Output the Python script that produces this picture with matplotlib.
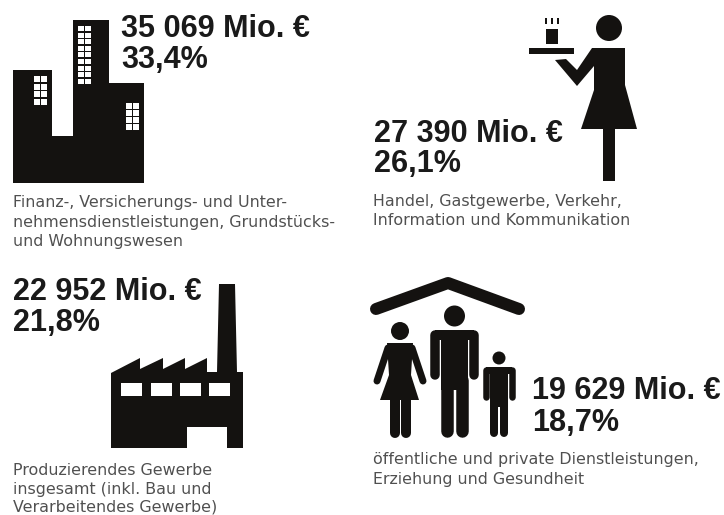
import matplotlib
matplotlib.use('Agg')
import matplotlib.pyplot as plt
from matplotlib.patches import Polygon, Rectangle, Circle

# values
mio = ['35 069', '27 390', '22 952', '19 629']
pct = ['33,4', '26,1', '21,8', '18,7']
desc = [
    ['Finanz-, Versicherungs- und Unter-', 'nehmensdienstleistungen, Grundstücks-', 'und Wohnungswesen'],
    ['Handel, Gastgewerbe, Verkehr,', 'Information und Kommunikation'],
    ['Produzierendes Gewerbe', 'insgesamt (inkl. Bau und', 'Verarbeitendes Gewerbe)'],
    ['öffentliche und private Dienstleistungen,', 'Erziehung und Gesundheit'],
]

# text placement in pixels: x, baseline of first line, baseline of second line
big_pos = [(121, 37, 68), (374, 142, 172), (13, 300, 331), (532, 399, 431)]
desc_pos = [(13, [207, 227, 246]), (373, [206, 225]), (13, [475, 494, 511]), (373, [464, 484])]

BLACK = '#141210'
plt.rcParams['font.family'] = ['Liberation Sans', 'DejaVu Sans']

fig = plt.figure(figsize=(7.24, 5.15), dpi=100)
ax = fig.add_axes([0, 0, 1, 1])
ax.set_xlim(0, 724)
ax.set_ylim(515, 0)
ax.axis('off')


def poly(pts, color=BLACK):
    ax.add_patch(Polygon(pts, closed=True, fc=color, ec='none'))


def rect(x0, y0, x1, y1, color=BLACK):
    ax.add_patch(Rectangle((x0, y0), x1 - x0, y1 - y0, fc=color, ec='none'))


def stroke(xs, ys, w, cap='round'):
    # w is in pixels
    ax.plot(xs, ys, color=BLACK, lw=w * 0.72, solid_capstyle=cap, solid_joinstyle='round')


def windows(x0, y0, cols, rows, w, h, gap):
    for c in range(cols):
        for r in range(rows):
            rect(x0 + c * (w + gap), y0 + r * (h + gap), x0 + c * (w + gap) + w, y0 + r * (h + gap) + h, 'white')


# buildings
poly([(13, 70), (52, 70), (52, 136), (73, 136), (73, 20), (109, 20), (109, 83), (144, 83), (144, 183), (13, 183)])
windows(78, 26, 2, 9, 5.5, 5, 1.6)
windows(34, 76, 2, 4, 5.5, 6, 1.6)
windows(126, 103, 2, 4, 5.5, 5.5, 1.6)

# waitress
ax.add_patch(Circle((609, 28), 13, fc=BLACK, ec='none'))
rect(529, 48, 574, 54)
rect(546, 29, 558, 44)
for sx in [546, 552, 558]:
    rect(sx - 0.8, 18, sx + 0.8, 24)
poly([(592, 48), (625, 48), (625, 85), (637, 129), (581, 129), (594, 90), (594, 66),
      (577, 86), (555, 60), (566, 59), (577, 70)])
rect(603, 129, 615, 181)

# factory
poly([(219, 284), (235, 284), (237, 372), (217, 372)])
poly([(111, 373), (140, 358), (140, 369), (163, 358), (163, 369), (185, 358), (185, 369), (207, 358), (207, 372),
      (243, 372), (243, 448), (227, 448), (227, 427), (187, 427), (187, 448), (111, 448)])
for wx in [121, 151, 180, 209]:
    rect(wx, 383, wx + 21, 396, 'white')

# family: roof
stroke([376, 448, 519], [309, 283, 309], 12)


def person(cx, head_y, r, top, bottom, half_w, arm_end, arm_w, leg_half, gap):
    ax.add_patch(Circle((cx, head_y), r, fc=BLACK, ec='none'))
    stroke([cx - half_w + arm_w / 2, cx - half_w + arm_w / 2], [top + arm_w / 2, arm_end - arm_w / 2], arm_w)
    stroke([cx + half_w - arm_w / 2, cx + half_w - arm_w / 2], [top + arm_w / 2, arm_end - arm_w / 2], arm_w)
    rect(cx - half_w + arm_w / 2, top, cx + half_w - arm_w / 2, top + arm_w)
    rect(cx - leg_half, top, cx + leg_half, arm_end + (arm_end - top) * 0.2)
    leg_w = leg_half - gap / 2
    stroke([cx - gap / 2 - leg_w / 2] * 2, [arm_end, bottom - leg_w / 2], leg_w)
    stroke([cx + gap / 2 + leg_w / 2] * 2, [arm_end, bottom - leg_w / 2], leg_w)


person(454.5, 316, 10.5, 330, 437, 24.5, 380, 9.5, 13.5, 2)
person(499, 358, 6.5, 367, 437, 16, 400, 6.5, 9, 2)

# woman
ax.add_patch(Circle((400, 331), 9, fc=BLACK, ec='none'))
poly([(387, 343), (413, 343), (411, 375), (419, 400), (380, 400), (389, 375)])
stroke([388, 377], [348, 381], 7)
stroke([412, 423], [348, 381], 7)
stroke([394.5, 394.5], [400, 433], 10)
stroke([405.5, 405.5], [400, 433], 10)

# labels
for i in range(4):
    x, y1, y2 = big_pos[i]
    ax.text(x, y1, mio[i] + ' Mio. €', fontsize=22.1, fontweight='bold', color='#1a1a1a', va='baseline', ha='left')
    ax.text(x, y2, pct[i] + '%', fontsize=22.1, fontweight='bold', color='#1a1a1a', va='baseline', ha='left')
    dx, ys = desc_pos[i]
    for line, yy in zip(desc[i], ys):
        ax.text(dx, yy, line, fontsize=11.4, color='#505050', va='baseline', ha='left', family='DejaVu Sans')

fig.savefig('out.png', dpi=100, facecolor='white')
